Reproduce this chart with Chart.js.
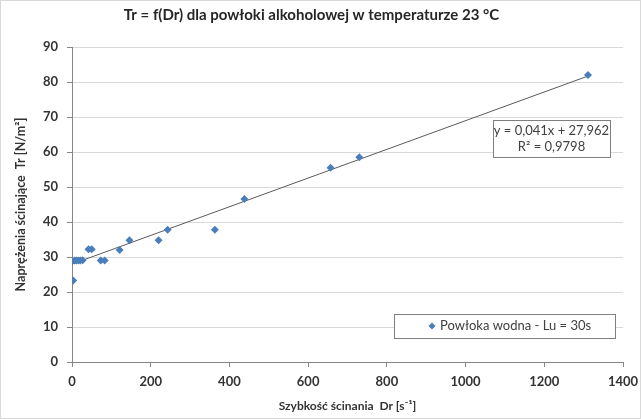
<!DOCTYPE html>
<html>
<head>
<meta charset="utf-8">
<script src="https://cdn.jsdelivr.net/npm/chart.js@4.4.1/dist/chart.umd.min.js"></script>
<style>
    html, body { margin: 0; padding: 0; background: #fff; }
    #wrap { width: 641px; height: 419px; position: relative; }
</style>
</head>
<body>
<div id="wrap"><canvas id="chart" width="641" height="419"></canvas></div>
<script>
// Measured points: shear rate Dr [1/s] vs shear stress Tr [N/m2]
const shearRate   = [3, 6, 11, 16, 21, 27, 42, 50, 73, 83, 121, 146, 220, 243, 363, 438, 657, 730, 1311];
const shearStress = [23.3, 29, 29, 29, 29, 29.1, 32.2, 32.2, 29, 29, 32, 34.8, 34.8, 37.8, 37.8, 46.6, 55.5, 58.5, 82];

// Linear trend line ends (as drawn)
const trendX = [0, 1311];
const trendY = [27.96, 81.7];

const xTicks = [0, 200, 400, 600, 800, 1000, 1200, 1400];
const yTicks = [0, 10, 20, 30, 40, 50, 60, 70, 80, 90];

const seriesLabel = 'Powłoka wodna - Lu = 30s';
const equationLines = ['y = 0,041x + 27,962', 'R² = 0,9798'];

const FONT = 'Lato, "Open Sans", sans-serif';
const blue = '#4a7ebb';

const points = shearRate.map((x, i) => ({ x: x, y: shearStress[i] }));
const trend = trendX.map((x, i) => ({ x: x, y: trendY[i] }));

// draws the legend box and the trend equation box inside the plot
const boxesPlugin = {
    id: 'boxes',
    afterDatasetsDraw(chart) {
        const ctx = chart.ctx;
        const a = chart.chartArea;
        ctx.save();

        // equation box
        let w = 117, h = 37;
        let x0 = a.right - 13 - w, y0 = a.top + 73;
        ctx.fillStyle = '#fff';
        ctx.fillRect(x0, y0, w, h);
        ctx.strokeStyle = '#7f7f7f';
        ctx.lineWidth = 1;
        ctx.strokeRect(Math.round(x0) + 0.5, Math.round(y0) + 0.5, w, h);
        ctx.fillStyle = '#404040';
        ctx.font = '13px ' + FONT;
        ctx.textAlign = 'center';
        ctx.textBaseline = 'middle';
        ctx.fillText(equationLines[0], x0 + w / 2, y0 + 11);
        ctx.fillText(equationLines[1], x0 + w / 2, y0 + 27);

        // legend box
        w = 221; h = 24;
        x0 = a.right - 8 - w; y0 = a.bottom - 25 - h + 1;
        ctx.fillStyle = '#fff';
        ctx.fillRect(x0, y0, w, h);
        ctx.strokeStyle = '#7f7f7f';
        ctx.strokeRect(Math.round(x0) + 0.5, Math.round(y0) + 0.5, w, h);
        const my = y0 + h / 2;
        ctx.fillStyle = blue;
        ctx.beginPath();
        ctx.moveTo(x0 + 38, my - 3.5);
        ctx.lineTo(x0 + 41.5, my);
        ctx.lineTo(x0 + 38, my + 3.5);
        ctx.lineTo(x0 + 34.5, my);
        ctx.closePath();
        ctx.fill();
        ctx.fillStyle = '#404040';
        ctx.textAlign = 'left';
        ctx.fillText(seriesLabel, x0 + 46, my);

        ctx.restore();
    }
};

const framePlugin = {
    id: 'frame',
    afterDraw(chart) {
        const ctx = chart.ctx;
        ctx.save();
        ctx.strokeStyle = '#d9d9d9';
        ctx.lineWidth = 1;
        ctx.strokeRect(0.5, 0.5, chart.width - 1, chart.height - 1);
        ctx.restore();
    }
};

new Chart(document.getElementById('chart'), {
    type: 'scatter',
    data: {
        datasets: [
            {
                label: seriesLabel,
                data: points,
                pointStyle: 'rectRot',
                pointRadius: 4,
                pointHoverRadius: 4,
                backgroundColor: blue,
                borderColor: blue,
                borderWidth: 0,
                order: 1
            },
            {
                label: 'trend',
                type: 'line',
                data: trend,
                borderColor: '#5a5a5a',
                borderWidth: 1,
                pointRadius: 0,
                fill: false,
                order: 2
            }
        ]
    },
    options: {
        responsive: false,
        animation: false,
        layout: { padding: { top: 5, right: 18, bottom: 0, left: 0 } },
        plugins: {
            legend: { display: false },
            tooltip: { enabled: false },
            title: {
                display: true,
                text: 'Tr = f(Dr) dla powłoki alkoholowej w temperaturze 23 °C',
                color: '#262626',
                font: { family: FONT, size: 15, weight: 'bold' },
                padding: { top: 1, bottom: 23 }
            }
        },
        scales: {
            x: {
                type: 'linear',
                min: 0,
                max: 1400,
                afterBuildTicks: (s) => { s.ticks = xTicks.map(v => ({ value: v })); },
                afterFit: (s) => { s.height = 57; s.paddingLeft = 0; s.paddingRight = 0; },
                grid: { drawOnChartArea: false, tickLength: 5, tickColor: '#868686' },
                border: { color: '#868686' },
                ticks: {
                    color: '#333333',
                    padding: 7,
                    callback: (v) => String(v),
                    font: { family: FONT, size: 13, weight: 'bold' }
                },
                title: {
                    display: true,
                    text: 'Szybkość ścinania  Dr [s⁻¹]',
                    color: '#333333',
                    font: { family: FONT, size: 12, weight: 'bold' },
                    padding: { top: 0, bottom: 6 }
                }
            },
            y: {
                min: 0,
                max: 90,
                afterBuildTicks: (s) => { s.ticks = yTicks.map(v => ({ value: v })); },
                afterFit: (s) => { s.width = 72; },
                grid: { color: '#d9d9d9', tickLength: 5, tickColor: '#868686' },
                border: { color: '#868686' },
                ticks: {
                    color: '#333333',
                    padding: 9,
                    callback: (v) => String(v),
                    font: { family: FONT, size: 13, weight: 'bold' }
                },
                title: {
                    display: true,
                    text: 'Naprężenia ścinające  Tr [N/m²]',
                    color: '#333333',
                    font: { family: FONT, size: 12.5, weight: 'bold' },
                    padding: { top: 13, bottom: 0 }
                }
            }
        }
    },
    plugins: [boxesPlugin, framePlugin]
});
</script>
</body>
</html>
